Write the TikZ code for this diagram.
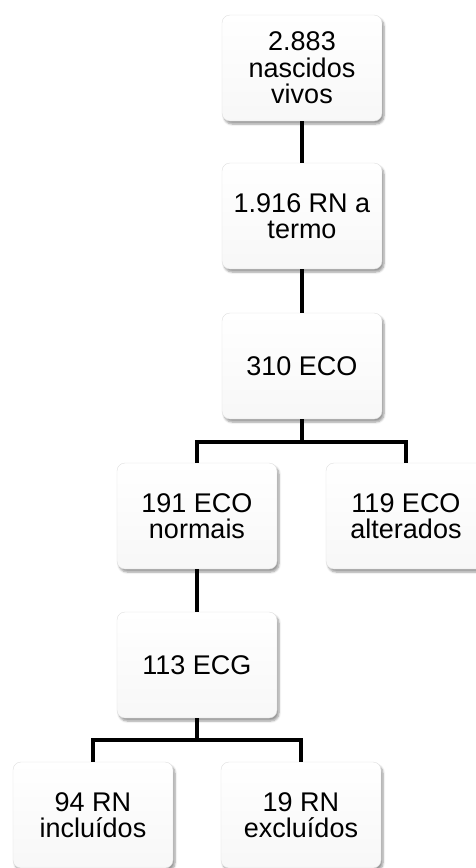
\documentclass[tikz,border=0pt]{standalone}
\usepackage{fontspec}
\setmainfont{Liberation Sans}
\usetikzlibrary{shadows.blur}
\begin{document}
\begin{tikzpicture}[x=1pt,y=-1pt,
  flowbox/.style={rectangle, rounded corners=8pt, minimum width=160pt, minimum height=106pt,
    draw=gray!25, line width=0.4pt, top color=white, bottom color=gray!6,
    blur shadow={shadow xshift=2pt, shadow yshift=-3pt, shadow blur steps=6, shadow opacity=40},
    align=center, font=\fontsize{27}{26.5}\selectfont, inner sep=0pt},
  link/.style={line width=4.5pt, black}]
\useasboundingbox (0,0) rectangle (476,868);
\node[flowbox] (n1) at (302,68) {2.883\\nascidos\\vivos};
\node[flowbox] (n2) at (302,216) {1.916 RN a\\termo};
\node[flowbox] (n3) at (302,366) {310 ECO};
\node[flowbox] (n4) at (197,516) {191 ECO\\normais};
\node[flowbox] (n5) at (406,516) {119 ECO\\alterados};
\node[flowbox] (n6) at (197,665) {113 ECG};
\node[flowbox] (n7) at (93,815) {94 RN\\incluídos};
\node[flowbox] (n8) at (301,815) {19 RN\\excluídos};
\coordinate (j1) at (302,442);
\coordinate (j2) at (197,740);
\draw[link] (n1.south) -- (n2.north);
\draw[link] (n2.south) -- (n3.north);
\draw[link] (n3.south) -- (j1);
\draw[link] (j1) -| (n4.north);
\draw[link] (j1) -| (n5.north);
\draw[link] (n4.south) -- (n6.north);
\draw[link] (n6.south) -- (j2);
\draw[link] (j2) -| (n7.north);
\draw[link] (j2) -| (n8.north);
\end{tikzpicture}
\end{document}
